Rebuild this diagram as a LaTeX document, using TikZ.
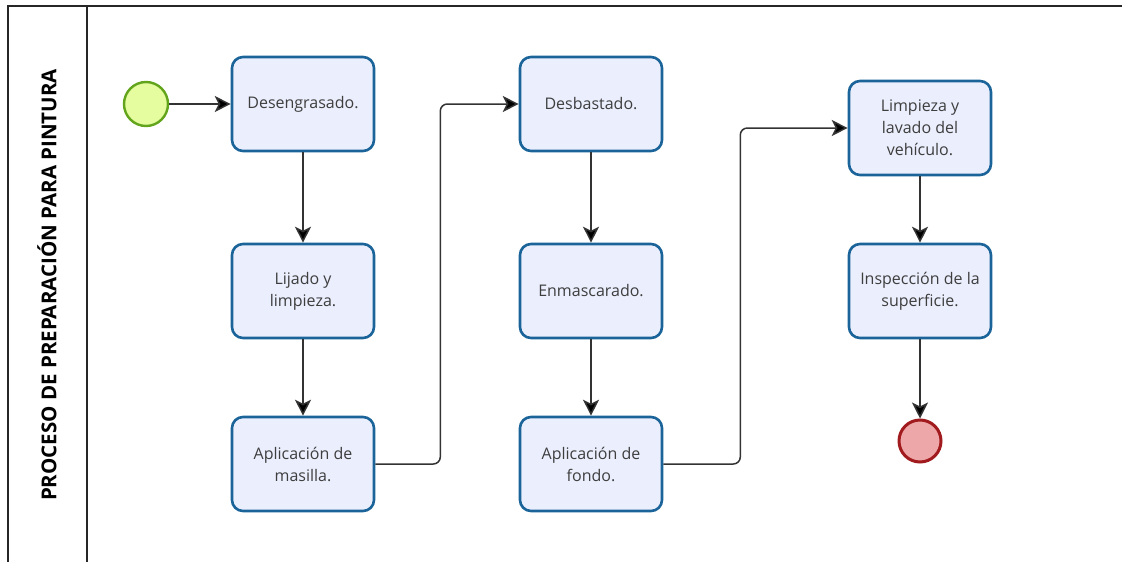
\documentclass[tikz,border=0pt]{standalone}
\usepackage{fontspec}
\setmainfont{Open Sans}
\usetikzlibrary{arrows.meta}
\definecolor{taskline}{HTML}{1A6499}
\definecolor{taskfill}{HTML}{EBEEFD}
\definecolor{tasktext}{HTML}{3E3E3E}
\definecolor{startline}{HTML}{62A51C}
\definecolor{startfill}{HTML}{E5FD9E}
\definecolor{endline}{HTML}{A11A1D}
\definecolor{endfill}{HTML}{EEA7A9}
\definecolor{flowline}{HTML}{333333}
\begin{document}
\begin{tikzpicture}[x=1pt,y=-1pt,
  task/.style={draw=taskline, fill=taskfill, line width=2.6pt, rounded corners=11pt,
    minimum width=142pt, minimum height=94pt, align=center, text=tasktext,
    font=\fontsize{16}{22}\selectfont, inner sep=0pt},
  startev/.style={circle, draw=startline, fill=startfill, line width=2.4pt, minimum size=44pt, inner sep=0pt},
  endev/.style={circle, draw=endline, fill=endfill, line width=3pt, minimum size=42pt, inner sep=0pt},
  flow/.style={draw=flowline, line width=1.5pt, -{Stealth[length=16pt,width=16pt,inset=4pt,fill=black]}},
  pool/.style={draw=black!85, line width=1.5pt}]
\useasboundingbox (0,0) rectangle (1122,562);

% pool frame and lane header
\draw[pool] (1122,6) -- (8,6) -- (8,562);
\draw[pool] (87,6) -- (87,562);
\node[rotate=90, font=\fontsize{20.5}{24}\selectfont\bfseries, text=black] (lane) at (47,285)
  {PROCESO DE PREPARACIÓN PARA PINTURA};

% events
\node[startev] (start) at (146,104) {};
\node[endev] (fin) at (920,441) {};

% tasks
\node[task] (desen) at (303,104) {Desengrasado.};
\node[task] (lijado) at (303,291) {Lijado y\\limpieza.};
\node[task] (masilla) at (303,464) {Aplicación de\\masilla.};
\node[task] (desb) at (591,104) {Desbastado.};
\node[task] (enmasc) at (591,291) {Enmascarado.};
\node[task] (fondo) at (591,464) {Aplicación de\\fondo.};
\node[task] (lavado) at (920,128) {Limpieza y\\lavado del\\vehículo.};
\node[task] (insp) at (920,291) {Inspección de la\\superficie.};

% sequence flows
\draw[flow] (start) -- (desen);
\draw[flow] (desen) -- (lijado);
\draw[flow] (lijado) -- (masilla);
\draw[flow, rounded corners=7pt] (masilla.east) -- ++(65,0) |- (desb.west);
\draw[flow] (desb) -- (enmasc);
\draw[flow] (enmasc) -- (fondo);
\draw[flow, rounded corners=7pt] (fondo.east) -- ++(77,0) |- (lavado.west);
\draw[flow] (lavado) -- (insp);
\draw[flow] (insp) -- (fin);
\end{tikzpicture}
\end{document}
